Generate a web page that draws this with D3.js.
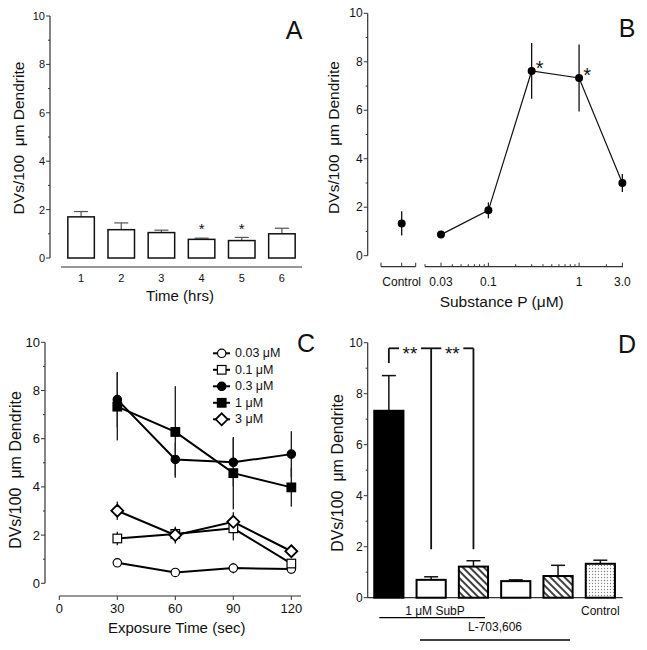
<!DOCTYPE html>
<html><head><meta charset="utf-8">
<script src="https://cdn.jsdelivr.net/npm/d3@7"></script>
<style>body{margin:0;background:#fff}svg{display:block}text{font-family:"Liberation Sans",Arial,sans-serif;fill:#111}</style>
</head><body>
<script>
// ---------- DATA ----------
const yTicks = [0, 2, 4, 6, 8, 10];
const yMinorTicks = [1, 3, 5, 7, 9];

// Panel A
const hours = [1, 2, 3, 4, 5, 6];
const aValues = [1.70, 1.17, 1.05, 0.77, 0.72, 1.00];
const aErrors = [0.22, 0.28, 0.10, 0.05, 0.13, 0.23];
const aStars = [4, 5];

// Panel B
const bControl = 1.33, bControlErr = 0.5;
const bConc = [0.03, 0.1, 0.3, 1, 3];
const bValues = [0.87, 1.87, 7.62, 7.33, 3.00];
const bErrors = [0.10, 0.33, 1.15, 1.38, 0.37];
const bStars = [0.3, 1];
const bTickValues = [0.03, 0.1, 1, 3];
const bTickLabels = ["0.03", "0.1", "1", "3.0"];
const bMinorTicks = [0.02, 0.04, 0.05, 0.06, 0.07, 0.08, 0.09, 0.2, 0.3, 0.4, 0.5, 0.6, 0.7, 0.8, 0.9, 2];

// Panel C
const times = [30, 60, 90, 120];
const cTicks = [0, 30, 60, 90, 120];
const cSeriesNames = ["0.03 μM", "0.1 μM", "0.3 μM", "1 μM", "3 μM"];
const cSymbols = ["circleOpen", "squareOpen", "circleFilled", "squareFilled", "diamondOpen"];
const c003 = [0.85, 0.45, 0.63, 0.59], c003Err = [0.08, 0.06, 0.22, 0.10];
const c01 = [1.86, 2.05, 2.28, 0.82], c01Err = [0.28, 0.25, 0.50, 0.12];
const c03 = [7.62, 5.14, 5.02, 5.36], c03Err = [1.15, 0.70, 1.00, 0.95];
const c1 = [7.33, 6.28, 4.57, 3.98], c1Err = [1.40, 1.90, 1.50, 0.80];
const c3 = [3.01, 2.00, 2.55, 1.33], c3Err = [0.38, 0.35, 0.40, 0.15];

// Panel D
const dGroups = ["g1", "g2", "g3", "g4", "g5", "g6"];
const dValues = [7.33, 0.70, 1.22, 0.65, 0.85, 1.33];
const dErrors = [1.38, 0.12, 0.23, 0.05, 0.42, 0.14];
const dFills = ["black", "white", "hatch", "white", "hatch", "dots"];

// ---------- DRAW ----------
const W = 647, H = 650;
const svg = d3.select("body").append("svg").attr("width", W).attr("height", H);
const defs = svg.append("defs");
const hatch = defs.append("pattern").attr("id", "hatch").attr("patternUnits", "userSpaceOnUse")
  .attr("width", 5).attr("height", 5).attr("patternTransform", "rotate(-45)");
hatch.append("rect").attr("width", 5).attr("height", 5).attr("fill", "#fff");
hatch.append("line").attr("x1", 1).attr("y1", 0).attr("x2", 1).attr("y2", 5).attr("stroke", "#000").attr("stroke-width", 1.5);
const dots = defs.append("pattern").attr("id", "dots").attr("patternUnits", "userSpaceOnUse").attr("width", 3).attr("height", 3);
dots.append("rect").attr("width", 3).attr("height", 3).attr("fill", "#fff");
dots.append("circle").attr("cx", 1.5).attr("cy", 1.5).attr("r", 0.7).attr("fill", "#888");
const fillOf = f => f === "hatch" ? "url(#hatch)" : f === "dots" ? "url(#dots)" : f;

const AX = "#333";
function yAxis(g, y, x0, fs) {
  g.append("line").attr("x1", x0).attr("x2", x0).attr("y1", y(0)).attr("y2", y(10)).attr("stroke", AX).attr("stroke-width", 1.2);
  yTicks.forEach(t => {
    g.append("line").attr("x1", x0 - 4).attr("x2", x0).attr("y1", y(t)).attr("y2", y(t)).attr("stroke", AX).attr("stroke-width", 1);
    g.append("text").attr("x", x0 - 5).attr("y", y(t)).attr("text-anchor", "end").attr("dominant-baseline", "central")
      .attr("font-size", fs).text(t);
  });
  yMinorTicks.forEach(t => {
    g.append("line").attr("x1", x0 - 2).attr("x2", x0).attr("y1", y(t)).attr("y2", y(t)).attr("stroke", AX).attr("stroke-width", 1);
  });
}
function yTitle(g, x, y, fs) {
  g.append("text").attr("transform", `translate(${x},${y}) rotate(-90)`).attr("text-anchor", "middle")
    .attr("dominant-baseline", "central").attr("font-size", fs).style("white-space", "pre").text("DVs/100  μm Dendrite");
}
function letter(g, x, y, t) {
  g.append("text").attr("x", x).attr("y", y).attr("text-anchor", "middle").attr("dominant-baseline", "central")
    .attr("font-size", 25).text(t);
}

// ===== Panel A =====
{
  const g = svg.append("g");
  const y = d3.scaleLinear().domain([0, 10]).range([258, 16]);
  const x = d3.scaleBand().domain(hours).range([61, 302]).paddingInner(0.34).paddingOuter(0.17);
  yAxis(g, y, 50, 11);
  g.append("line").attr("x1", 61).attr("x2", 302).attr("y1", 267).attr("y2", 267).attr("stroke", AX).attr("stroke-width", 1.2);
  hours.forEach(h => g.append("text").attr("x", x(h) + x.bandwidth() / 2).attr("y", 278).attr("text-anchor", "middle")
    .attr("dominant-baseline", "central").attr("font-size", 11).text(h));
  hours.forEach((h, i) => {
    const cx = x(h) + x.bandwidth() / 2;
    g.append("line").attr("x1", cx).attr("x2", cx).attr("y1", y(aValues[i])).attr("y2", y(aValues[i] + aErrors[i])).attr("stroke", "#555").attr("stroke-width", 1.2);
    g.append("line").attr("x1", cx - 7).attr("x2", cx + 7).attr("y1", y(aValues[i] + aErrors[i])).attr("y2", y(aValues[i] + aErrors[i])).attr("stroke", "#555").attr("stroke-width", 1.2);
  });
  g.selectAll("rect.bar").data(aValues).join("rect").attr("x", (d, i) => x(hours[i])).attr("width", x.bandwidth())
    .attr("y", d => y(d)).attr("height", d => y(0) - y(d)).attr("fill", "#fff").attr("stroke", "#111").attr("stroke-width", 1.5);
  aStars.forEach(h => g.append("text").attr("x", x(h) + x.bandwidth() / 2).attr("y", y(1.35) + 3).attr("text-anchor", "middle")
    .attr("dominant-baseline", "central").attr("font-size", 15).attr("fill", "#444").text("*"));
  g.append("text").attr("x", 180).attr("y", 295).attr("text-anchor", "middle").attr("dominant-baseline", "central").attr("font-size", 15).text("Time (hrs)");
  yTitle(g, 18, 138, 15.5);
  letter(g, 294, 30, "A");
}

// ===== Panel B =====
{
  const g = svg.append("g");
  const y = d3.scaleLinear().domain([0, 10]).range([255.7, 13.3]);
  const x = d3.scaleLog().domain([0.02, 3.05]).range([425, 623]);
  const xc = 401.7;
  yAxis(g, y, 367.7, 12);
  const ay = 266.7;
  g.append("line").attr("x1", 381).attr("x2", 415.7).attr("y1", ay).attr("y2", ay).attr("stroke", AX).attr("stroke-width", 1.2);
  [381, xc, 415.7].forEach(v => g.append("line").attr("x1", v).attr("x2", v).attr("y1", ay - 4).attr("y2", ay).attr("stroke", AX));
  g.append("line").attr("x1", x(0.02)).attr("x2", 623).attr("y1", ay).attr("y2", ay).attr("stroke", AX).attr("stroke-width", 1.2);
  bTickValues.forEach(v => g.append("line").attr("x1", x(v)).attr("x2", x(v)).attr("y1", ay - 4).attr("y2", ay).attr("stroke", AX));
  bMinorTicks.forEach(v => g.append("line").attr("x1", x(v)).attr("x2", x(v)).attr("y1", ay - 2.5).attr("y2", ay).attr("stroke", AX));
  g.append("text").attr("x", xc).attr("y", 281.7).attr("text-anchor", "middle").attr("dominant-baseline", "central").attr("font-size", 12).text("Control");
  bTickValues.forEach((v, i) => g.append("text").attr("x", x(v)).attr("y", 281.7).attr("text-anchor", "middle")
    .attr("dominant-baseline", "central").attr("font-size", 12).text(bTickLabels[i]));
  // control point
  g.append("line").attr("x1", xc).attr("x2", xc).attr("y1", y(bControl - bControlErr)).attr("y2", y(bControl + bControlErr)).attr("stroke", "#111").attr("stroke-width", 1.3);
  g.append("circle").attr("cx", xc).attr("cy", y(bControl)).attr("r", 4).attr("fill", "#000");
  bConc.forEach((c, i) => g.append("line").attr("x1", x(c)).attr("x2", x(c)).attr("y1", y(bValues[i] - bErrors[i]))
    .attr("y2", y(bValues[i] + bErrors[i])).attr("stroke", "#111").attr("stroke-width", 1.3));
  g.append("path").attr("d", d3.line().x((d, i) => x(bConc[i])).y(d => y(d))(bValues)).attr("fill", "none").attr("stroke", "#111").attr("stroke-width", 1.2);
  g.selectAll("circle.pt").data(bValues).join("circle").attr("class", "pt").attr("cx", (d, i) => x(bConc[i])).attr("cy", d => y(d)).attr("r", 4).attr("fill", "#000");
  bStars.forEach(c => {
    const i = bConc.indexOf(c);
    g.append("text").attr("x", x(c) + 8).attr("y", y(bValues[i]) - 3).attr("text-anchor", "middle").attr("dominant-baseline", "central").attr("font-size", 20).text("*");
  });
  g.append("text").attr("x", 501.7).attr("y", 301.5).attr("text-anchor", "middle").attr("dominant-baseline", "central").attr("font-size", 15.5).text("Substance P (μM)");
  yTitle(g, 333, 137.5, 15.5);
  letter(g, 627, 28, "B");
}

// ===== Panel C =====
{
  const g = svg.append("g");
  const y = d3.scaleLinear().domain([0, 10]).range([583.3, 342.3]);
  const x = d3.scaleLinear().domain([0, 125]).range([59.3, 301]);
  yAxis(g, y, 45, 13);
  g.append("line").attr("x1", x(0)).attr("x2", x(125)).attr("y1", 596).attr("y2", 596).attr("stroke", AX).attr("stroke-width", 1.2);
  cTicks.forEach(t => {
    g.append("line").attr("x1", x(t)).attr("x2", x(t)).attr("y1", 596).attr("y2", 600).attr("stroke", AX);
    g.append("text").attr("x", x(t)).attr("y", 608).attr("text-anchor", "middle").attr("dominant-baseline", "central").attr("font-size", 13).text(t);
  });
  const series = [[c003, c003Err], [c01, c01Err], [c03, c03Err], [c1, c1Err], [c3, c3Err]];
  series.forEach(([v, e]) => times.forEach((t, i) => g.append("line").attr("x1", x(t)).attr("x2", x(t))
    .attr("y1", y(v[i] - e[i])).attr("y2", y(v[i] + e[i])).attr("stroke", "#222").attr("stroke-width", 1.4)));
  function sym(gg, type, cx, cy) {
    if (type.startsWith("circle")) gg.append("circle").attr("cx", cx).attr("cy", cy).attr("r", 4.2)
      .attr("fill", type === "circleFilled" ? "#000" : "#fff").attr("stroke", "#000").attr("stroke-width", 1.2);
    else if (type.startsWith("square")) gg.append("rect").attr("x", cx - 4.3).attr("y", cy - 4.3).attr("width", 8.6).attr("height", 8.6)
      .attr("fill", type === "squareFilled" ? "#000" : "#fff").attr("stroke", "#000").attr("stroke-width", 1.2);
    else gg.append("path").attr("d", `M${cx},${cy - 6}L${cx + 6},${cy}L${cx},${cy + 6}L${cx - 6},${cy}Z`)
      .attr("fill", "#fff").attr("stroke", "#000").attr("stroke-width", 1.8);
  }
  series.forEach(([v], k) => {
    g.append("path").attr("d", d3.line().x((d, i) => x(times[i])).y(d => y(d))(v)).attr("fill", "none").attr("stroke", "#000").attr("stroke-width", 2);
    v.forEach((d, i) => sym(g, cSymbols[k], x(times[i]), y(d)));
  });
  // legend
  cSeriesNames.forEach((n, k) => {
    const ly = 353.3 + k * 16.5;
    g.append("line").attr("x1", 213).attr("x2", 230).attr("y1", ly).attr("y2", ly).attr("stroke", "#000").attr("stroke-width", 2);
    sym(g, cSymbols[k], 221.7, ly);
    g.append("text").attr("x", 235).attr("y", ly).attr("dominant-baseline", "central").attr("font-size", 12.5).text(n);
  });
  g.append("text").attr("x", 176.7).attr("y", 627).attr("text-anchor", "middle").attr("dominant-baseline", "central").attr("font-size", 15).text("Exposure Time (sec)");
  yTitle(g, 15, 470, 16);
  letter(g, 306, 343, "C");
}

// ===== Panel D =====
{
  const g = svg.append("g");
  const y = d3.scaleLinear().domain([0, 10]).range([597.7, 342.7]);
  const x = d3.scaleBand().domain(dGroups).range([367.7, 621.5]).paddingInner(0.31).paddingOuter(0.155);
  const cx = k => x(dGroups[k]) + x.bandwidth() / 2;
  yAxis(g, y, 367.7, 12);
  g.append("line").attr("x1", 367.7).attr("x2", 622.7).attr("y1", y(0)).attr("y2", y(0)).attr("stroke", AX).attr("stroke-width", 1.2);
  dGroups.forEach((d, i) => {
    const top = y(dValues[i] + dErrors[i]);
    g.append("line").attr("x1", cx(i)).attr("x2", cx(i)).attr("y1", y(dValues[i])).attr("y2", top).attr("stroke", "#111").attr("stroke-width", 1.5);
    g.append("line").attr("x1", cx(i) - 7).attr("x2", cx(i) + 7).attr("y1", top).attr("y2", top).attr("stroke", "#111").attr("stroke-width", 1.5);
  });
  g.selectAll("rect.bar").data(dValues).join("rect").attr("x", (d, i) => x(dGroups[i])).attr("width", x.bandwidth())
    .attr("y", d => y(d)).attr("height", d => y(0) - y(d)).attr("fill", (d, i) => fillOf(dFills[i])).attr("stroke", "#000").attr("stroke-width", 2);
  // significance bracket
  const by = y(9.78);
  const seg = (x1, y1, x2, y2) => g.append("line").attr("x1", x1).attr("y1", y1).attr("x2", x2).attr("y2", y2).attr("stroke", "#111").attr("stroke-width", 1.8);
  const m1 = (cx(0) + cx(1)) / 2, m2 = (cx(1) + cx(2)) / 2;
  seg(cx(0), y(9.2), cx(0), by);
  seg(cx(0), by, m1 - 11, by); seg(m1 + 11, by, m2 - 11, by); seg(m2 + 11, by, cx(2), by);
  seg(cx(1), by, cx(1), y(1.9)); seg(cx(2), by, cx(2), y(1.9));
  [m1, m2].forEach(m => g.append("text").attr("x", m).attr("y", by + 5).attr("text-anchor", "middle").attr("dominant-baseline", "central").attr("font-size", 19).text("**"));
  g.append("text").attr("x", 435).attr("y", 611).attr("text-anchor", "middle").attr("dominant-baseline", "central").attr("font-size", 12).text("1 μM SubP");
  g.append("text").attr("x", cx(5)).attr("y", 611).attr("text-anchor", "middle").attr("dominant-baseline", "central").attr("font-size", 12).text("Control");
  g.append("line").attr("x1", 379.3).attr("x2", 485).attr("y1", 617.7).attr("y2", 617.7).attr("stroke", "#000").attr("stroke-width", 1.3);
  g.append("text").attr("x", 495).attr("y", 627).attr("text-anchor", "middle").attr("dominant-baseline", "central").attr("font-size", 12).text("L-703,606");
  g.append("line").attr("x1", 420).attr("x2", 570).attr("y1", 640).attr("y2", 640).attr("stroke", "#000").attr("stroke-width", 1.3);
  yTitle(g, 337, 473, 16);
  letter(g, 627, 344, "D");
}
</script>
</body></html>
